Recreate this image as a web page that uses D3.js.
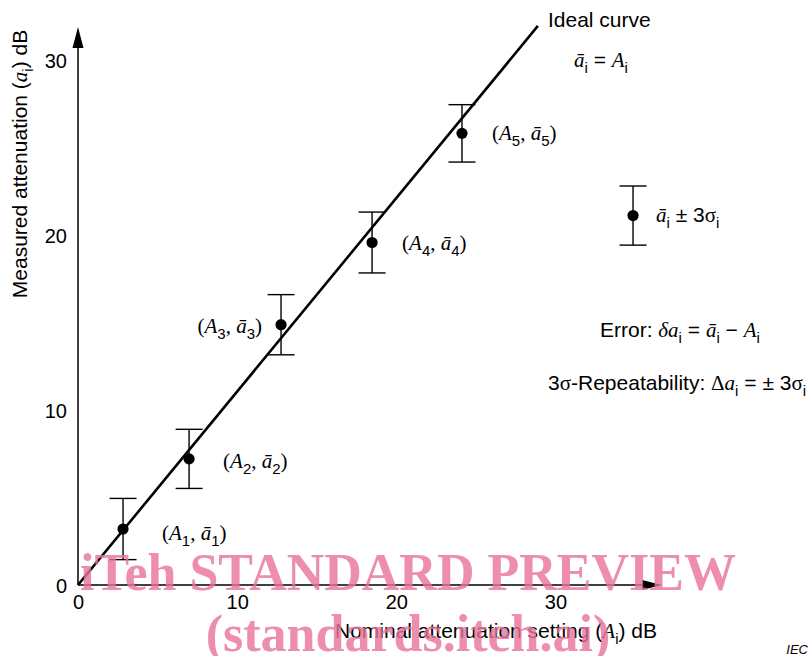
<!DOCTYPE html>
<html>
<head>
<meta charset="utf-8">
<script src="https://cdn.jsdelivr.net/npm/d3@7"></script>
<style>
  html, body { margin: 0; padding: 0; background: #fff; }
  svg { display: block; }
</style>
</head>
<body>
<svg id="chart" width="811" height="656"></svg>
<script>
// ---------------- DATA ----------------
const xTicks = [0, 10, 20, 30];
const yTicks = [0, 10, 20, 30];
const xAxisEnd = 36.7;   // axis extends to arrow tip (data units)
const yAxisEnd = 31.9;
const nominal  = [2.83, 6.98, 12.76, 18.48, 24.13];   // A_i
const measured = [3.2, 7.21, 14.88, 19.58, 25.82];    // mean a_i
const sigma3   = [1.75, 1.69, 1.72, 1.74, 1.64];      // 3 sigma_i
const pointIds = ["1", "2", "3", "4", "5"];
const idealX = [0, 28.9];
const idealY = [0, 31.96];
const legendPoint = [34.88, 21.12];
const legendSigma3 = 1.69;

// ---------------- LAYOUT ----------------
const svg = d3.select("#chart");
const x = d3.scaleLinear().domain([0, xAxisEnd]).range([78, 662]);
const y = d3.scaleLinear().domain([0, yAxisEnd]).range([585, 27]);
const SANS = "'Liberation Sans', Arial, Helvetica, sans-serif";
const SERIF = "'Liberation Serif', 'Times New Roman', serif";
const labelDx = [39, 34, -19, 30, 30];
const labelDy = [11, 9, 8, 7, 7];

// axis lines with arrows
const axes = svg.append("g");
axes.append("line").attr("x1", x(0)).attr("y1", y(0)).attr("x2", x(0)).attr("y2", y(yAxisEnd) + 18)
  .attr("stroke", "#000").attr("stroke-width", 1.5);
axes.append("line").attr("x1", x(0)).attr("y1", y(0)).attr("x2", x(xAxisEnd) - 18).attr("y2", y(0))
  .attr("stroke", "#000").attr("stroke-width", 1.5);
axes.append("path")
  .attr("d", `M${x(0)},${y(yAxisEnd)} L${x(0) - 5.5},${y(yAxisEnd) + 21} L${x(0) + 5.5},${y(yAxisEnd) + 21} Z`)
  .attr("fill", "#000");
axes.append("path")
  .attr("d", `M${x(xAxisEnd)},${y(0)} L${x(xAxisEnd) - 20},${y(0) - 5} L${x(xAxisEnd) - 20},${y(0) + 5} Z`)
  .attr("fill", "#000");

// tick labels through d3 axes
const gx = svg.append("g").attr("transform", `translate(0,${y(0)})`)
  .call(d3.axisBottom(x).tickValues(xTicks).tickSize(0).tickPadding(10).tickFormat(d3.format("d")));
const gy = svg.append("g").attr("transform", `translate(${x(0)},0)`)
  .call(d3.axisLeft(y).tickValues(yTicks).tickSize(0).tickPadding(11).tickFormat(d3.format("d")));
[gx, gy].forEach(g => {
  g.select(".domain").remove();
  g.selectAll("text").attr("font-family", SANS).attr("font-size", 20).attr("fill", "#000");
});
gy.selectAll("text").attr("dy", "0.35em");

// ideal curve
svg.append("line")
  .attr("x1", x(idealX[0])).attr("y1", y(idealY[0]))
  .attr("x2", x(idealX[1])).attr("y2", y(idealY[1]))
  .attr("stroke", "#000").attr("stroke-width", 2.6);

// error bars + points
function errorBar(g, cx, cy, s3) {
  const px = x(cx);
  g.append("line").attr("x1", px).attr("x2", px).attr("y1", y(cy + s3)).attr("y2", y(cy - s3))
    .attr("stroke", "#000").attr("stroke-width", 1.4);
  [cy + s3, cy - s3].forEach(v => {
    g.append("line").attr("x1", px - 13.5).attr("x2", px + 13.5).attr("y1", y(v)).attr("y2", y(v))
      .attr("stroke", "#000").attr("stroke-width", 1.4);
  });
  g.append("circle").attr("cx", px).attr("cy", y(cy)).attr("r", 5.6).attr("fill", "#000");
}
const pts = svg.append("g");
nominal.forEach((a, i) => errorBar(pts, a, measured[i], sigma3[i]));
errorBar(pts, legendPoint[0], legendPoint[1], legendSigma3);

// rich text helper
function rich(x0, y0, segs, anchor, transform, base) {
  const fs = base || 21;
  const t = svg.append("text").attr("x", x0).attr("y", y0).attr("fill", "#000")
    .attr("text-anchor", anchor || "start");
  if (transform) t.attr("transform", transform);
  let shift = 0;
  segs.forEach(([txt, st]) => {
    const sp = t.append("tspan").text(txt);
    let target = 0;
    if (st === "s") { sp.attr("font-family", SANS).attr("font-size", fs); }
    else if (st === "it") { sp.attr("font-family", SERIF).attr("font-style", "italic").attr("font-size", 21); }
    else if (st === "sr") { sp.attr("font-family", SERIF).attr("font-size", 21); }
    else if (st === "sub") { sp.attr("font-family", SANS).attr("font-size", 15); target = 6; }
    if (target !== shift) { sp.attr("dy", target - shift); shift = target; }
  });
  return t;
}

// point labels
nominal.forEach((a, i) => {
  const segs = [["(", "sr"], ["A", "it"], [pointIds[i], "sub"], [", ", "sr"], ["ā", "it"], [pointIds[i], "sub"], [")", "sr"]];
  rich(x(a) + labelDx[i], y(measured[i]) + labelDy[i], segs, labelDx[i] < 0 ? "end" : "start");
});

// annotations
rich(548, 27, [["Ideal curve", "s"]]);
rich(574, 67, [["ā", "it"], ["i", "sub"], [" = ", "s"], ["A", "it"], ["i", "sub"]]);
rich(656, 222, [["ā", "it"], ["i", "sub"], [" ± 3", "s"], ["σ", "sr"], ["i", "sub"]]);
rich(600, 337, [["Error: ", "s"], ["δa", "it"], ["i", "sub"], [" = ", "s"], ["ā", "it"], ["i", "sub"], [" − ", "s"], ["A", "it"], ["i", "sub"]]);
rich(548, 390, [["3", "s"], ["σ", "sr"], ["-Repeatability: ", "s"], ["Δ", "sr"], ["a", "it"], ["i", "sub"], [" = ± 3", "s"], ["σ", "sr"], ["i", "sub"]]);

// axis titles
rich(496, 638, [["Nominal attenuation setting (", "s"], ["A", "it"], ["i", "sub"], [") dB", "s"]], "middle");
rich(0, 0, [["Measured attenuation (", "s"], ["a", "it"], ["i", "sub"], [") dB", "s"]], "middle", "translate(27,164) rotate(-90)");

svg.append("text").attr("x", 808).attr("y", 654).attr("text-anchor", "end")
  .attr("font-family", SANS).attr("font-style", "italic").attr("font-size", 13).text("IEC");

// watermark
const wm = svg.append("g").attr("fill", "#e9739a").attr("opacity", 0.8)
  .attr("font-family", SERIF).attr("font-weight", "bold").attr("font-size", 52).attr("text-anchor", "middle");
wm.append("text").attr("x", 408).attr("y", 590).text("iTeh STANDARD PREVIEW");
wm.append("text").attr("x", 408).attr("y", 651).text("(standards.iteh.ai)");
</script>
</body>
</html>
